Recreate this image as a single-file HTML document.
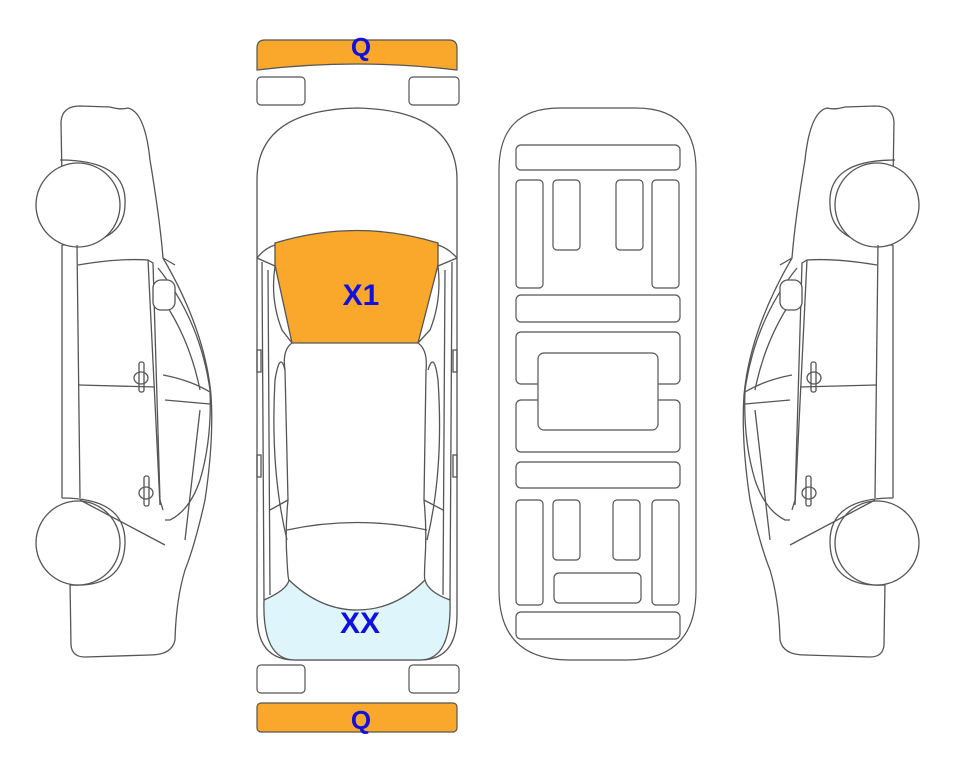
<!DOCTYPE html>
<html><head><meta charset="utf-8"><style>
html,body{margin:0;padding:0;background:#fff;}
svg{display:block}
text{font-family:"Liberation Sans",sans-serif;font-weight:bold;fill:#1010e0;}
</style></head><body>
<svg width="963" height="768" viewBox="0 0 963 768" xmlns="http://www.w3.org/2000/svg">
<defs>
<g id="side" fill="none" stroke="#555" stroke-width="1.3">
  <!-- body outline -->
  <path d="M62,180 L61,122 Q62,106 80,106 L110,107 Q120,110 128,108 Q145,112 150,160 Q160,220 163,258 Q205,330 211,395 Q214,440 205,500 Q195,545 185,570 Q176,600 175,640 Q172,655 150,655 L85,657 Q72,657 71,645 L70,582"/>
  <!-- wheel arches -->
  <path d="M60,160 Q128,160 125,205 Q124,245 62,245"/>
  <path d="M62,498 Q126,498 125,543 Q124,588 70,585"/>
  <circle cx="78" cy="205" r="42" fill="#fff"/>
  <circle cx="78" cy="543" r="42" fill="#fff"/>
  <!-- sills -->
  <line x1="62" y1="245" x2="62" y2="498"/>
  <line x1="77" y1="245" x2="80" y2="498"/>
  <!-- door frames -->
  <path d="M78,265 Q120,258 148,260 L153,263 L160,500 L163,510"/>
  <path d="M80,500 L165,545"/>
  <path d="M79,385 L155,387"/>
  <path d="M148,260 L160,505"/>
  <path d="M163,258 L175,265"/>
  <!-- windows -->
  <path d="M158,268 Q200,320 210,390 Q212,440 200,480 Q190,510 170,520 L165,520"/>
  <path d="M163,300 Q190,340 200,390"/>
  <path d="M163,375 Q190,380 210,392"/>
  <path d="M165,400 L210,404"/>
  <path d="M200,410 L185,540"/>
  <!-- mirror -->
  <rect x="153" y="280" width="22" height="30" rx="8" fill="#fff"/>
  <!-- handles -->
  <rect x="139" y="362" width="5" height="30" rx="2"/>
  <ellipse cx="141" cy="378" rx="7" ry="6"/>
  <rect x="144" y="476" width="5" height="30" rx="2"/>
  <ellipse cx="146" cy="493" rx="7" ry="6"/>
</g>
</defs>
<use href="#side"/>
<use href="#side" transform="translate(955,0) scale(-1,1)"/>

<!-- bumpers -->
<path d="M257,48 Q257,40 265,40 L449,40 Q457,40 457,48 L457,70 Q357,58 257,70 Z" fill="#f9a82b" stroke="#555" stroke-width="1.2"/>
<text x="361" y="56" font-size="26" text-anchor="middle">Q</text>
<g fill="#fff" stroke="#555" stroke-width="1.2">
<rect x="257" y="77" width="48" height="28" rx="4"/>
<rect x="409" y="77" width="50" height="28" rx="4"/>
<rect x="257" y="665" width="48" height="28" rx="4"/>
<rect x="409" y="665" width="50" height="28" rx="4"/>
</g>
<rect x="257" y="703" width="200" height="29" rx="4" fill="#f9a82b" stroke="#555" stroke-width="1.2"/>
<text x="361" y="729" font-size="26" text-anchor="middle">Q</text>

<!-- top view -->
<g fill="none" stroke="#555" stroke-width="1.3">
<path d="M257,180 Q257,110 357,108 Q457,110 457,180 L457,615 Q457,660 420,660 L295,660 Q257,660 257,615 Z" fill="#fff"/>
<path d="M264,600 Q287,590 289,580 Q320,610 357,610 Q395,610 425,580 Q428,592 450,600 Q452,660 420,660 L295,660 Q262,660 264,600 Z" fill="#dff5fc"/>
<path d="M275,243 Q357,218 438,243 L438,265 L418,343 L292,343 L275,265 Z" fill="#f9a82b"/>
<path d="M257,258 Q265,248 275,245 M457,258 Q448,248 438,245"/>
<path d="M257,258 L275,266 M457,258 L438,266"/>
<path d="M262,262 L264,600 M452,262 L450,600"/>
<path d="M268,270 L270,595 M445,270 L443,595"/>
<path d="M292,343 L282,330 Q270,300 275,266 M418,343 L430,330 Q442,300 438,266"/>
<path d="M292,343 Q282,350 285,370 L288,500 Q285,530 287,560 Q288,580 289,580 M418,343 Q428,350 426,370 L424,500 Q427,530 425,560 Q424,580 425,580"/>
<path d="M288,500 L270,510 M424,500 L443,510"/>
<path d="M287,530 Q357,515 427,530"/>
<path d="M287,540 Q270,470 275,380 Q280,350 285,370 M427,540 Q444,470 438,380 Q434,350 428,370"/>
<rect x="257" y="350" width="4" height="22"/>
<rect x="453" y="350" width="4" height="22"/>
<rect x="257" y="455" width="4" height="22"/>
<rect x="453" y="455" width="4" height="22"/>
</g>
<text x="361" y="305" font-size="30" text-anchor="middle">X1</text>
<text x="360" y="633" font-size="30" text-anchor="middle">XX</text>

<!-- underbody -->
<g fill="#fff" stroke="#555" stroke-width="1.2">
<path d="M499,170 Q499,108 560,108 L636,108 Q696,108 696,170 L696,590 Q696,660 626,660 L570,660 Q499,660 499,590 Z"/>
<rect x="516" y="145" width="164" height="25" rx="5"/>
<rect x="516" y="180" width="27" height="108" rx="4"/>
<rect x="553" y="180" width="27" height="70" rx="4"/>
<rect x="616" y="180" width="27" height="70" rx="4"/>
<rect x="652" y="180" width="27" height="108" rx="4"/>
<rect x="516" y="295" width="164" height="27" rx="5"/>
<rect x="516" y="332" width="164" height="52" rx="5"/>
<rect x="516" y="400" width="164" height="52" rx="5"/>
<rect x="538" y="353" width="120" height="77" rx="6"/>
<rect x="516" y="462" width="164" height="26" rx="5"/>
<rect x="516" y="500" width="27" height="105" rx="4"/>
<rect x="553" y="500" width="27" height="60" rx="4"/>
<rect x="613" y="500" width="27" height="60" rx="4"/>
<rect x="652" y="500" width="27" height="105" rx="4"/>
<rect x="554" y="573" width="87" height="30" rx="5"/>
<rect x="516" y="612" width="164" height="27" rx="5"/>
</g>
</svg>
</body></html>
